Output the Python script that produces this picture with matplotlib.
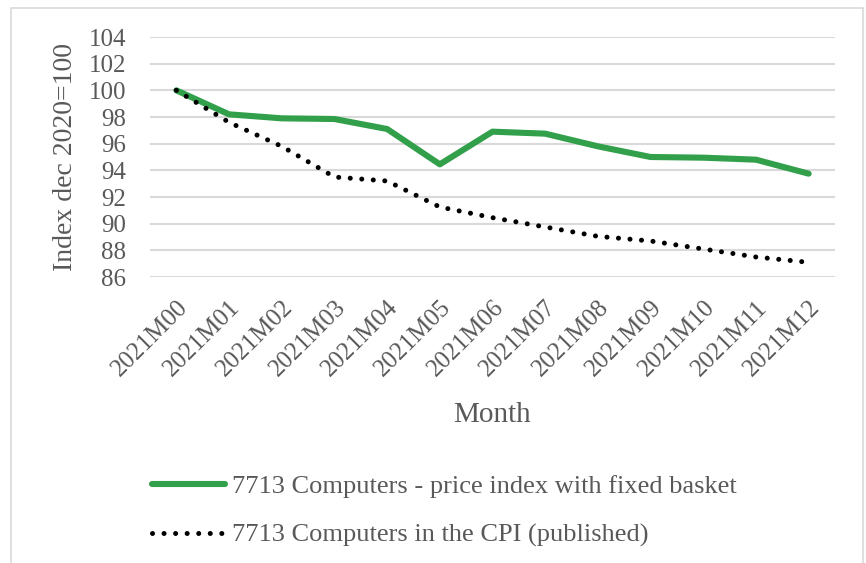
import numpy as np
import matplotlib.pyplot as plt
from matplotlib.patches import Rectangle

months = ['2021M00', '2021M01', '2021M02', '2021M03', '2021M04', '2021M05', '2021M06',
          '2021M07', '2021M08', '2021M09', '2021M10', '2021M11', '2021M12']
fixed_basket = [100.0, 98.2, 97.9, 97.85, 97.1, 94.45, 96.9, 96.75, 95.8, 95.0, 94.95, 94.8, 93.75]
cpi_published = [100.0, 97.6, 95.8, 93.5, 93.2, 91.25, 90.45, 89.75, 89.05, 88.7, 88.1, 87.5, 87.1]
yticks = np.arange(86, 105, 2)

plt.rcParams['font.family'] = ['Liberation Serif', 'DejaVu Serif']
grey = '#595959'

fig = plt.figure(figsize=(8.66, 5.63), dpi=100)
ax = fig.add_axes([150/866, 1 - 277/563, (835-150)/866, (277-37)/563])

x = np.arange(len(months))
ax.plot(x, fixed_basket, color='#32a04a', linewidth=4.4, solid_capstyle='round',
        label='7713 Computers - price index with fixed basket')
ax.plot(x, cpi_published, color='black', linewidth=3.6, linestyle=(0, (0.01, 2.3)),
        dash_capstyle='round', label='7713 Computers in the CPI (published)')

ax.set_xlim(-0.5, len(months) - 0.5)
ax.set_ylim(86, 104)
ax.set_yticks(yticks)
ax.set_xticks(x)
ax.set_xticklabels(months, rotation=45, ha='right', rotation_mode='anchor')
ax.grid(axis='y', color='#d9d9d9', linewidth=1.5)
ax.set_axisbelow(True)
for s in ax.spines.values():
    s.set_visible(False)
ax.tick_params(length=0, labelsize=18, colors=grey)
ax.tick_params(axis='y', pad=17)
ax.tick_params(axis='x', pad=14)
ax.set_ylabel('Index dec 2020=100', fontsize=20, color=grey, labelpad=8)
ax.set_xlabel('Month', fontsize=21, color=grey, labelpad=15)

fig.legend(loc='upper left', bbox_to_anchor=(152/866, 1 - 475/563), frameon=False,
           fontsize=19, labelcolor=grey, handlelength=2.77, handletextpad=0.27,
           labelspacing=0.95, borderpad=0, borderaxespad=0)

fig.patches.append(Rectangle((11/866, -0.01), (863-11)/866, 1 - 8/563 + 0.01,
                             transform=fig.transFigure, fill=False,
                             edgecolor='#d9d9d9', linewidth=1.2))

fig.savefig('out.png', dpi=100)
